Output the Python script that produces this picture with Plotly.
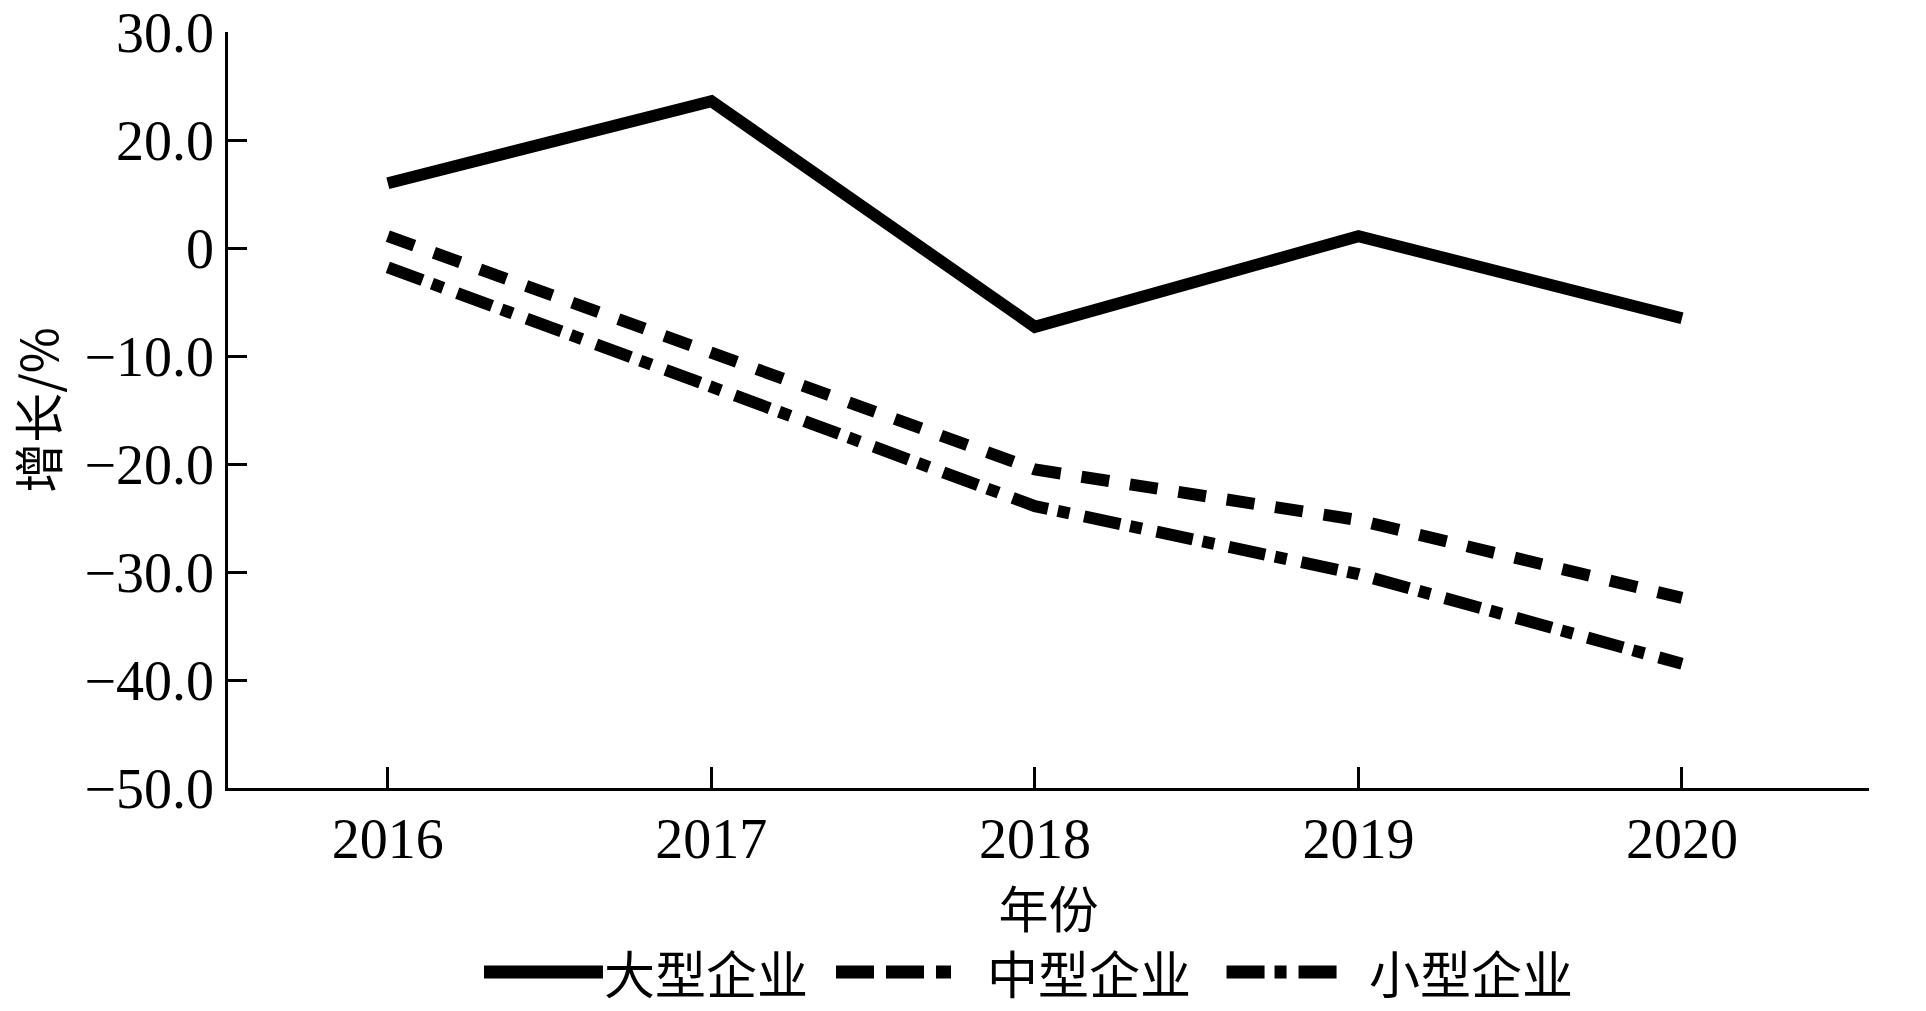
import plotly.graph_objects as go

# ---- data ----
years = [2016, 2017, 2018, 2019, 2020]
year_labels = ["2016", "2017", "2018", "2019", "2020"]
large = [6.0, 13.6, -7.3, 1.1, -6.5]
medium = [1.1, -9.7, -20.5, -25.2, -32.4]
small = [-1.8, -12.8, -23.9, -30.2, -38.5]
series_names = ["大型企业", "中型企业", "小型企业"]
ytick_vals = [20, 10, 0, -10, -20, -30, -40, -50]
ytick_text = ["30.0", "20.0", "0", "−10.0", "−20.0", "−30.0", "−40.0", "−50.0"]
x_title = "年份"
y_title = "增长/%"

FONT = "Liberation Serif, Times New Roman, Noto Sans CJK SC, serif"
CJK = "Noto Sans CJK SC, Liberation Serif, serif"
dashes = ["solid", "28px,21px", "37px,10px,12px,15px"]
LW = 12

fig = go.Figure()
for name, vals, d in zip(series_names, [large, medium, small], dashes):
    fig.add_trace(go.Scatter(
        x=years, y=vals, mode="lines", name=name,
        line=dict(color="black", width=LW, dash=d),
        showlegend=False,
    ))

# manual legend (long swatches like the reference)
leg_y = -0.2435
swatches = [(0.156, 0.2285), (0.3705, 0.4406), (0.6085, 0.676)]
text_x = [0.2285, 0.4617, 0.6947]
leg_dash = ["solid", "38px,12px", "38px,10px,12px,12px"]
for (x0, x1), tx, name, d in zip(swatches, text_x, series_names, leg_dash):
    fig.add_shape(type="line", xref="paper", yref="paper",
                  x0=x0, x1=x1, y0=leg_y, y1=leg_y,
                  line=dict(color="black", width=13, dash=d))
    fig.add_annotation(xref="paper", yref="paper", x=tx, y=leg_y,
                       text=name, showarrow=False, xanchor="left", yanchor="middle",
                       borderpad=0,
                       font=dict(family=CJK, size=51, color="black"))

fig.update_xaxes(
    range=[2015.506, 2020.578], automargin=False,
    tickvals=years, ticktext=year_labels,
    showline=True, linecolor="black", linewidth=2.5,
    ticks="inside", ticklen=21, tickwidth=2.5, tickcolor="black",
    showgrid=False, zeroline=False,
    tickfont=dict(family=FONT, size=56, color="black"),
    title=dict(text=x_title, font=dict(family=CJK, size=50, color="black"), standoff=0),
)
fig.update_yaxes(
    range=[-50, 20], automargin=False,
    tickvals=ytick_vals, ticktext=ytick_text,
    showline=True, linecolor="black", linewidth=2.5,
    ticks="inside", ticklen=19, tickwidth=2.5, tickcolor="black",
    showgrid=False, zeroline=False,
    tickfont=dict(family=FONT, size=56, color="black"),
    title=dict(text=y_title, font=dict(family=CJK, size=50, color="black"), standoff=12),
)
fig.update_layout(
    template="none",
    width=1926, height=1011,
    margin=dict(l=228, r=57, t=32, b=223),
    paper_bgcolor="white", plot_bgcolor="white",
    showlegend=False,
)
fig.write_html("out.html", config={"displayModeBar": False},
               post_script="document.body.style.margin='0';document.body.style.overflow='hidden';")
